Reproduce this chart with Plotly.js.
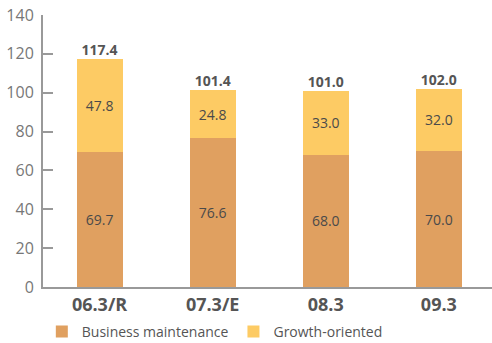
<!DOCTYPE html>
<html><head><meta charset="utf-8">
<script src="https://cdn.plot.ly/plotly-3.0.1.min.js"></script>
<style>html,body{margin:0;padding:0;background:#fff}#c{width:492px;height:343px}</style>
</head><body><div id="c"></div>
<script>
const categories = ["06.3/R", "07.3/E", "08.3", "09.3"];
const maintenance = [69.7, 76.6, 68.0, 70.0];
const growth = [47.8, 24.8, 33.0, 32.0];
const totals = [117.4, 101.4, 101.0, 102.0];
const yTicks = [0, 20, 40, 60, 80, 100, 120, 140];

const txtFont = {family: "Open Sans, sans-serif", size: 14, color: "#4a4a4a"};
const data = [
  {type: "bar", name: "Business maintenance", x: categories, y: maintenance,
   marker: {color: "#E0A060"}, text: maintenance.map(v => v.toFixed(1)),
   textposition: "inside", insidetextanchor: "middle", textfont: txtFont, hoverinfo: "none"},
  {type: "bar", name: "Growth-oriented", x: categories, y: growth,
   marker: {color: "#FDCB64"}, text: growth.map(v => v.toFixed(1)),
   textposition: "inside", insidetextanchor: "middle", textfont: txtFont, hoverinfo: "none"},
  {type: "scatter", mode: "text", x: categories, y: totals, showlegend: false,
   text: totals.map(v => "<b>" + v.toFixed(1) + "</b>"), textposition: "top center",
   textfont: {family: "Open Sans, sans-serif", size: 14, color: "#555"}, hoverinfo: "none", cliponaxis: false}
];
const layout = {
  width: 492, height: 343, barmode: "stack", bargap: 0.594,
  margin: {l: 43, r: 0, t: 15, b: 56, autoexpand: false},
  paper_bgcolor: "#fff", plot_bgcolor: "#fff",
  font: {family: "Open Sans, sans-serif", color: "#555"},
  xaxis: {type: "category", range: [-0.5, 3.47], showline: true, linecolor: "#999", linewidth: 2,
          ticks: "", tickfont: {size: 18, color: "#555", family: "Open Sans, sans-serif", weight: "bold"},
          showgrid: false, zeroline: false},
  yaxis: {range: [0, 140], tickvals: yTicks, ticks: "inside", ticklen: 10, tickcolor: "#999", tickwidth: 2,
          showline: true, linecolor: "#999", linewidth: 2, showgrid: false, zeroline: false,
          tickfont: {size: 16, color: "#777"}, ticklabelstandoff: 4},
  showlegend: true,
  legend: {orientation: "h", x: 0.085, xref: "container", xanchor: "left", y: -0.165, yref: "paper", yanchor: "middle",
           font: {size: 14, color: "#555"}, traceorder: "normal", itemwidth: 30}
};
Plotly.newPlot("c", data, layout, {staticPlot: true});
</script></body></html>
